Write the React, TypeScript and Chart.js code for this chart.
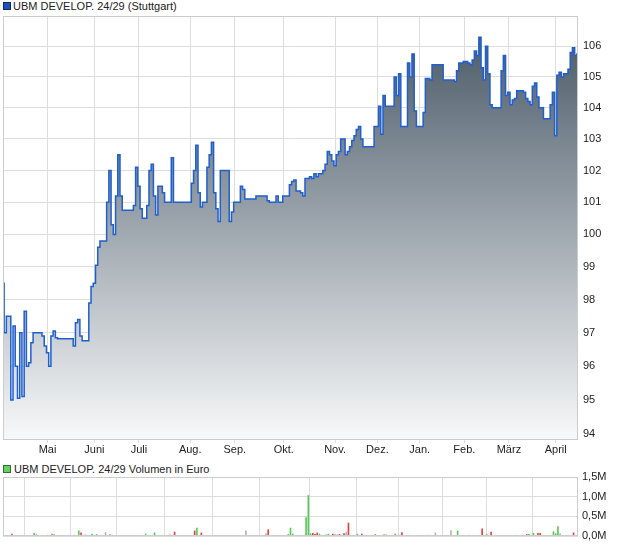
import React, { useEffect, useRef } from 'react';
import { Chart, registerables } from 'chart.js';

Chart.register(...registerables);

const FONT = '"Liberation Sans", Arial, Helvetica, sans-serif';

// Daily closing prices (Stuttgart), one array per month
const apr24 = [98.5, 97.0, 97.5, 97.5, 95.0, 97.2, 96.0, 95.05, 97.0, 95.1, 97.65, 96.0, 96.1, 96.7, 97.0, 97.0, 97.0, 97.0, 96.9, 96.6];
const may24 = [96.4, 96.0, 96.9, 97.05, 96.85, 96.82, 96.82, 96.82, 96.82, 96.82, 96.82, 96.82, 96.6, 97.3, 97.4, 96.9, 96.76, 96.76, 96.76, 97.9, 98.4];
const jun24 = [98.5, 99.05, 99.6, 99.8, 99.8, 99.8, 101.0, 102.0, 100.3, 100.0, 101.2, 102.5, 101.2, 100.75, 100.75, 100.75, 100.75, 100.75, 100.9, 102.1];
const jul24 = [101.5, 100.8, 100.5, 100.5, 100.9, 102.0, 102.2, 101.2, 100.6, 101.5, 101.5, 101.3, 101.0, 101.0, 101.0, 102.4, 101.0, 101.0, 101.0, 101.0, 101.0, 101.0, 101.0];
const aug24 = [101.0, 101.6, 102.0, 102.8, 101.3, 100.85, 101.0, 101.0, 102.1, 102.5, 102.9, 101.3, 100.8, 100.4, 102.0, 102.0, 102.0, 102.0, 100.4, 100.7];
const sep24 = [101.0, 101.0, 101.0, 101.5, 101.4, 101.1, 101.1, 101.1, 101.1, 101.1, 101.2, 101.2, 101.2, 101.2, 101.2, 101.05, 101.0, 101.0, 101.0, 101.2, 101.0, 101.0];
const oct24 = [101.2, 101.2, 101.2, 101.55, 101.65, 101.7, 101.35, 101.35, 101.3, 101.2, 101.75, 101.75, 101.8, 101.75, 101.9, 101.8, 101.9, 101.9, 102.0, 102.2, 102.6, 102.5, 102.3];
const nov24 = [102.15, 102.5, 102.6, 103.0, 103.0, 102.5, 102.6, 102.75, 102.95, 103.1, 103.3, 103.4, 103.0, 102.75, 102.75, 102.75, 102.75, 102.75, 103.4];
const dec24 = [103.4, 104.05, 103.15, 104.4, 104.05, 104.05, 104.05, 104.05, 105.0, 104.4, 105.1, 103.4, 103.4, 103.4, 105.45, 105.0, 105.75, 103.9, 103.4];
const jan25 = [103.4, 103.4, 103.85, 104.95, 104.95, 104.9, 105.4, 105.4, 105.4, 105.4, 105.4, 104.9, 104.9, 104.9, 104.9, 104.9, 104.85, 105.2, 105.45, 105.45];
const feb25 = [105.5, 105.5, 105.45, 105.4, 105.55, 105.85, 105.7, 106.3, 105.3, 104.9, 106.0, 105.1, 104.1, 104.0, 104.0, 104.0, 104.0, 105.2, 105.7, 104.4];
const mar25 = [104.5, 104.1, 104.25, 104.3, 104.55, 104.55, 104.55, 104.5, 104.3, 104.2, 104.1, 104.7, 104.8, 104.35, 104.0, 104.0, 103.65, 103.65, 103.65, 104.1, 104.5];
const apr25 = [103.1, 105.05, 105.15, 105.0, 105.1, 105.1, 105.25, 105.8, 105.95, 105.7, 105.75];

const priceMonths = [apr24, may24, jun24, jul24, aug24, sep24, oct24, nov24, dec24, jan25, feb25, mar25, apr25];
// label of each month (the first, partial month has no label)
const monthLabels = ['', 'Mai', 'Juni', 'Juli', 'Aug.', 'Sep.', 'Okt.', 'Nov.', 'Dez.', 'Jan.', 'Feb.', 'März', 'April'];

const priceTicks = [94, 95, 96, 97, 98, 99, 100, 101, 102, 103, 104, 105, 106];
const volumeTicks = [0, 0.5, 1.0, 1.5];

// Volume in million euro: [trading day, volume, trend (1 up, -1 down, 0 unchanged)]
const volumeBars: [number, number, number][] = [
  [1, 0.01, -1], [4, 0.05, -1], [8, 0.01, 0], [10, 0.01, 1], [13, 0.02, 0], [14, 0.07, 1], [15, 0.04, 0], [17, 0.02, 0],
  [20, 0.02, -1], [22, 0.05, 1], [23, 0.03, -1], [31, 0.02, -1], [32, 0.02, -1], [34, 0.13, 1], [35, 0.08, -1], [37, 0.03, 0],
  [38, 0.01, 0], [40, 0.05, 1], [42, 0.04, 1], [46, 0.09, 0], [48, 0.03, -1], [49, 0.02, -1], [61, 0.02, -1], [64, 0.05, 1],
  [66, 0.02, 0], [68, 0.08, 1], [73, 0.01, 0], [75, 0.03, 0], [76, 0.01, -1], [77, 0.1, -1], [86, 0.13, -1], [87, 0.2, 1],
  [88, 0.02, -1], [89, 0.08, -1], [95, 0.01, 0], [102, 0.01, 0], [109, 0.13, 0], [110, 0.02, -1], [114, 0.02, 1], [118, 0.06, 0],
  [119, 0.16, -1], [123, 0.01, -1], [128, 0.04, 1], [129, 0.2, 1], [130, 0.05, 1], [136, 0.47, 1], [137, 1.03, 1], [138, 0.06, 1],
  [139, 0.07, -1], [140, 0.04, -1], [141, 0.08, -1], [142, 0.05, 1], [144, 0.02, -1], [145, 0.03, 1], [146, 0.05, 1], [148, 0.05, -1],
  [149, 0.03, -1], [150, 0.03, 0], [151, 0.04, -1], [153, 0.06, -1], [154, 0.1, 0], [155, 0.33, -1], [159, 0.05, 1], [161, 0.05, -1],
  [167, 0.04, 1], [171, 0.03, -1], [172, 0.03, 1], [176, 0.05, 1], [178, 0.02, -1], [179, 0.09, -1], [182, 0.02, 1], [190, 0.02, 1],
  [191, 0.02, 1], [194, 0.08, 0], [201, 0.14, 0], [204, 0.13, 1], [209, 0.02, -1], [210, 0.01, -1], [215, 0.18, -1], [217, 0.04, 1],
  [219, 0.1, -1], [220, 0.02, 0], [230, 0.02, -1], [232, 0.02, 0], [235, 0.04, -1], [236, 0.04, 1], [238, 0.07, 1], [240, 0.07, -1],
  [241, 0.07, -1], [247, 0.11, 1], [248, 0.06, 1], [249, 0.24, 1], [250, 0.06, 0], [252, 0.02, 0], [256, 0.08, -1],
];

const prices = priceMonths.flat();
const monthStarts: number[] = [];
{
  let acc = 0;
  priceMonths.forEach((m) => { monthStarts.push(acc); acc += m.length; });
}
const labelAt = new Map<number, string>();
monthStarts.forEach((s, k) => { if (monthLabels[k]) labelAt.set(s, monthLabels[k]); });
const monthTicks = monthStarts.slice(1);
const lastIndex = prices.length - 1;

const GRID = '#dddddd';
const TEXT = '#222222';

const framePlugin = {
  id: 'frame',
  afterDraw(chart: any) {
    const { ctx, chartArea: a } = chart;
    ctx.save();
    ctx.strokeStyle = '#cccccc';
    ctx.lineWidth = 1;
    const l = Math.round(a.left) + 0.5;
    const t = Math.round(a.top) + 0.5;
    const r = Math.round(a.right) - 0.5;
    const b = Math.round(a.bottom) - 0.5;
    ctx.strokeRect(l, t, r - l, b - t);
    ctx.restore();
  },
};

function PriceChart() {
  const ref = useRef<HTMLCanvasElement>(null);
  useEffect(() => {
    const canvas = ref.current!;
    const chart = new Chart(canvas, {
      type: 'line',
      data: {
        datasets: [
          {
            data: prices.map((y, i) => ({ x: i, y })),
            borderColor: '#1f5fcf',
            borderWidth: 1.5,
            pointRadius: 0,
            stepped: 'middle',
            fill: 'start',
            backgroundColor: (ctx: any) => {
              const a = ctx.chart.chartArea;
              if (!a) return '#9aa4ab';
              const g = ctx.chart.ctx.createLinearGradient(0, a.top, 0, a.bottom);
              g.addColorStop(0, '#455563');
              g.addColorStop(1, '#f8f9fa');
              return g;
            },
          },
        ],
      },
      options: {
        animation: false,
        responsive: false,
        devicePixelRatio: 1,
        layout: { padding: { left: 3, top: 16, right: 0, bottom: 0 } },
        plugins: { legend: { display: false }, tooltip: { enabled: false } },
        scales: {
          x: {
            type: 'linear',
            min: 0,
            max: lastIndex,
            afterBuildTicks: (s: any) => { s.ticks = monthTicks.map((v) => ({ value: v })); },
            afterFit: (s: any) => { s.height = 18; s.paddingLeft = 0; s.paddingRight = 0; },
            border: { display: false },
            grid: { color: GRID, drawTicks: true, tickLength: 3 },
            ticks: {
              autoSkip: false,
              maxRotation: 0,
              padding: 0,
              color: TEXT,
              font: { family: FONT, size: 11 },
              callback: (v: any) => labelAt.get(v) ?? '',
            },
          },
          y: {
            type: 'logarithmic',
            position: 'right',
            min: 93.83,
            max: 107,
            afterBuildTicks: (s: any) => { s.ticks = priceTicks.map((v) => ({ value: v })); },
            afterFit: (s: any) => { s.width = 42; s.paddingTop = 0; s.paddingBottom = 0; },
            border: { display: false },
            grid: { color: GRID, drawTicks: false },
            ticks: {
              padding: 5,
              color: TEXT,
              font: { family: FONT, size: 11 },
              callback: (v: any) => String(v),
            },
          },
        },
      } as any,
      plugins: [framePlugin],
    });
    return () => chart.destroy();
  }, []);
  return <canvas ref={ref} width={620} height={458} style={{ position: 'absolute', left: 0, top: 0 }} />;
}

function VolumeChart() {
  const ref = useRef<HTMLCanvasElement>(null);
  useEffect(() => {
    const canvas = ref.current!;
    const trendColor = (t: number) => (t > 0 ? '#55cc55' : t < 0 ? '#dd4444' : '#b4b4b4');
    const chart = new Chart(canvas, {
      type: 'bar',
      data: {
        datasets: [
          {
            data: volumeBars.map(([x, y]) => ({ x, y })),
            backgroundColor: volumeBars.map(([, , t]) => trendColor(t)),
            barThickness: 1,
            borderWidth: 0,
          },
        ],
      },
      options: {
        animation: false,
        responsive: false,
        devicePixelRatio: 1,
        layout: { padding: { left: 3, top: 11, right: 0, bottom: 0 } },
        plugins: { legend: { display: false }, tooltip: { enabled: false } },
        scales: {
          x: {
            type: 'linear',
            min: 0,
            max: lastIndex,
            offset: false,
            afterBuildTicks: (s: any) => { s.ticks = monthTicks.map((v) => ({ value: v })); },
            afterFit: (s: any) => { s.height = 10; s.paddingLeft = 0; s.paddingRight = 0; },
            border: { display: false },
            grid: { color: GRID, drawTicks: false },
            ticks: { display: false },
          },
          y: {
            type: 'linear',
            position: 'right',
            min: 0,
            max: 1.5,
            afterBuildTicks: (s: any) => { s.ticks = volumeTicks.map((v) => ({ value: v })); },
            afterFit: (s: any) => { s.width = 42; s.paddingTop = 0; s.paddingBottom = 0; },
            border: { display: false },
            grid: { color: GRID, drawTicks: false },
            ticks: {
              padding: 4,
              color: TEXT,
              font: { family: FONT, size: 11 },
              callback: (v: any) => Number(v).toFixed(1).replace('.', ',') + 'M',
            },
          },
        },
      } as any,
      plugins: [framePlugin],
    });
    return () => chart.destroy();
  }, []);
  return <canvas ref={ref} width={620} height={80} style={{ position: 'absolute', left: 0, top: 466 }} />;
}

const legendText: React.CSSProperties = {
  position: 'absolute',
  fontFamily: FONT,
  fontSize: 11,
  lineHeight: '12px',
  color: TEXT,
  whiteSpace: 'nowrap',
};

export default function App() {
  useEffect(() => {
    document.body.style.margin = '0';
  }, []);
  return (
    <div style={{ position: 'absolute', left: 0, top: 0, width: 620, height: 546, background: '#ffffff', overflow: 'hidden' }}>
      <div style={{ position: 'absolute', left: 3, top: 2, width: 6, height: 6, background: '#1d50b8', border: '1px solid #0c2a66' }} />
      <div style={{ ...legendText, left: 13, top: 0 }}>UBM DEVELOP. 24/29 (Stuttgart)</div>
      <PriceChart />
      <div style={{ position: 'absolute', left: 3, top: 465, width: 6, height: 6, background: '#66d066', border: '1px solid #2f6f2f' }} />
      <div style={{ ...legendText, left: 14, top: 463 }}>UBM DEVELOP. 24/29 Volumen in Euro</div>
      <VolumeChart />
    </div>
  );
}
